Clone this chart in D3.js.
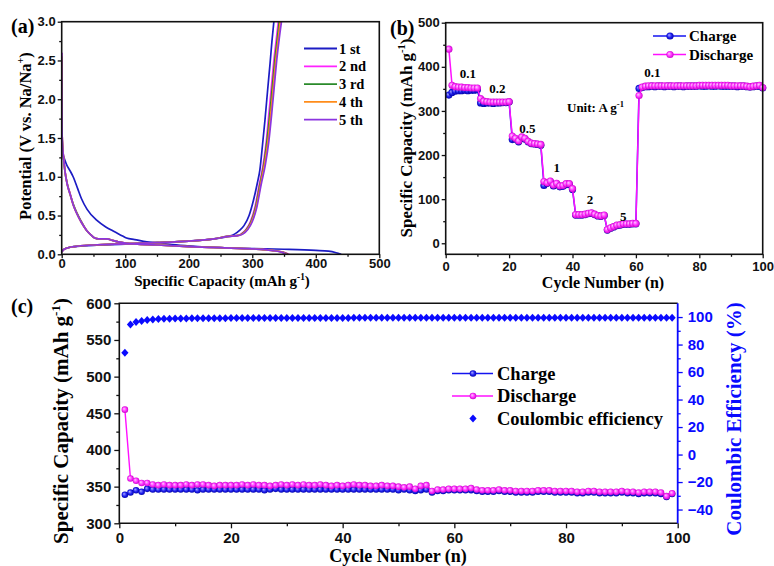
<!DOCTYPE html>
<html><head><meta charset="utf-8">
<script src="https://cdn.jsdelivr.net/npm/d3@7"></script>
<style>body{margin:0;background:#fff}svg{display:block}</style>
</head><body>
<script>
// ---------- (a) charge/discharge profiles, points are [capacity (mAh/g), potential (V)] ----------
const profileLabels = ["1 st", "2 nd", "3 rd", "4 th", "5 th"];
const discharge1 = [[0,1.36],[1,1.30],[3,1.26],[8,1.15],[13,1.08],[18,1.0],[25,0.85],[31,0.72],[40,0.58],[55,0.44],[70,0.35],[81,0.30],[95,0.24],[102,0.21],[115,0.19],[134,0.16],[150,0.15],[170,0.13],[200,0.11],[249,0.085],[300,0.075],[350,0.065],[400,0.05],[420,0.04],[432,0.02],[440,0.0]];
const discharge2 = [[0,2.6],[0.3,2.0],[0.6,1.6],[1,1.47],[3,1.25],[5,1.09],[9,0.9],[13,0.79],[18,0.65],[24,0.53],[31,0.42],[39,0.31],[46,0.25],[52,0.21],[58,0.2],[71,0.2],[80,0.18],[89,0.16],[100,0.145],[150,0.12],[200,0.1],[250,0.085],[300,0.07],[332,0.05],[350,0.025],[358,0.0]];
const discharge3 = [[0,2.55],[0.3,2.0],[0.6,1.6],[1,1.46],[3,1.24],[5,1.08],[9,0.9],[13,0.78],[18,0.65],[24,0.53],[31,0.42],[39,0.31],[46,0.25],[52,0.21],[58,0.2],[71,0.2],[80,0.18],[89,0.16],[100,0.145],[150,0.12],[200,0.1],[250,0.085],[300,0.07],[331,0.05],[349,0.025],[356,0.0]];
const discharge4 = [[0,2.55],[0.3,2.0],[0.6,1.6],[1,1.46],[3,1.24],[5,1.08],[9,0.89],[13,0.78],[18,0.64],[24,0.52],[31,0.41],[39,0.31],[46,0.25],[52,0.21],[58,0.2],[71,0.2],[80,0.18],[89,0.16],[100,0.145],[150,0.12],[200,0.1],[250,0.085],[300,0.07],[330,0.05],[348,0.025],[355,0.0]];
const discharge5 = [[0,2.6],[0.3,2.0],[0.6,1.6],[1,1.46],[3,1.24],[5,1.08],[9,0.89],[13,0.78],[18,0.64],[24,0.52],[31,0.41],[39,0.31],[46,0.25],[52,0.21],[58,0.2],[71,0.2],[80,0.18],[89,0.16],[100,0.145],[150,0.12],[200,0.1],[250,0.085],[300,0.07],[330,0.05],[347,0.025],[354,0.0]];
const charge1 = [[0,0.03],[3,0.06],[10,0.085],[20,0.1],[50,0.115],[100,0.13],[150,0.15],[200,0.17],[240,0.2],[262,0.23],[272,0.26],[280,0.31],[287,0.37],[295,0.5],[302,0.7],[308,0.92],[312,1.09],[316,1.4],[320,1.73],[324,2.1],[328,2.46],[331,2.75],[334,3.0]];
const charge2 = [[0,0.03],[3,0.06],[10,0.085],[20,0.1],[50,0.12],[100,0.135],[150,0.15],[200,0.17],[240,0.2],[260,0.23],[275,0.24],[282,0.26],[290,0.32],[297,0.42],[304,0.6],[311,0.9],[317,1.15],[322,1.45],[326,1.8],[330,2.15],[334,2.5],[337.5,2.75],[341,3.0]];
const charge3 = [[0,0.03],[3,0.06],[10,0.085],[20,0.1],[50,0.12],[100,0.135],[150,0.15],[200,0.17],[240,0.2],[260,0.23],[276,0.24],[283,0.26],[291,0.32],[298,0.42],[305,0.6],[312,0.9],[318,1.15],[323,1.45],[327.5,1.8],[331.5,2.15],[335.5,2.5],[339,2.75],[342.5,3.0]];
const charge4 = [[0,0.03],[3,0.06],[10,0.085],[20,0.1],[50,0.12],[100,0.135],[150,0.15],[200,0.17],[240,0.2],[261,0.23],[277,0.24],[284,0.26],[292,0.32],[299,0.42],[306,0.6],[313,0.9],[319,1.15],[324.5,1.45],[329,1.8],[333,2.15],[337,2.5],[340.5,2.75],[344,3.0]];
const charge5 = [[0,0.03],[3,0.06],[10,0.085],[20,0.1],[50,0.12],[100,0.135],[150,0.15],[200,0.17],[240,0.2],[262,0.23],[278,0.24],[285,0.26],[293,0.32],[300,0.42],[307,0.6],[314,0.9],[320.5,1.15],[326,1.45],[330.5,1.8],[334.5,2.15],[338.5,2.5],[342,2.75],[346,3.0]];

// ---------- (b) rate capability, cycles 1..100 (mAh/g) ----------
const rateCharge = [336,342,345,346,346,347,346,347,347,348,
  318,317,318,318,317,318,318,319,319,320,
  235,236,230,239,236,230,226,225,224,222,
  131,136,139,130,134,128,129,133,133,122,
  64,64,64,65,67,68,65,62,61,63,
  30,34,37,40,41,43,43,43,44,44,
  351,353,355,355,356,355,356,356,355,356,
  356,355,356,356,355,356,356,356,356,357,
  356,356,357,356,356,357,356,356,356,356,
  356,355,356,356,355,354,355,356,356,352];
const rateDischarge = [440,358,355,354,354,353,353,352,352,352,
  328,322,321,320,320,320,320,320,320,321,
  243,238,232,241,238,231,227,226,225,224,
  140,137,141,132,136,130,131,135,135,124,
  65,65,65,66,68,69,66,63,62,64,
  31,35,38,41,42,44,44,44,45,45,
  335,354,356,357,357,357,357,357,357,357,
  357,357,357,357,357,357,357,357,357,358,
  358,358,358,358,358,358,358,358,358,357,
  357,357,357,357,356,355,356,357,358,353];
// current density of each step (A/g), placed near its plateau
const rateLabels = [
  {text: "0.1", cycle: 7, value: 375},
  {text: "0.2", cycle: 16.3, value: 341},
  {text: "0.5", cycle: 25.8, value: 251},
  {text: "1", cycle: 35, value: 161},
  {text: "2", cycle: 45.5, value: 89},
  {text: "5", cycle: 56, value: 50},
  {text: "0.1", cycle: 65.2, value: 377}
];

// ---------- (c) long cycling at 0.1 A/g, cycles 1..99 ----------
const cycCharge = [339,342,345,343,347,346,346,346,346,346,
  346,346,346,345,346,346,346,346,346,346,
  346,346,346,346,346,345,346,347,346,346,
  346,346,346,346,346,346,346,346,346,346,
  346,346,346,346,346,346,346,346,346,345,
  346,345,344,345,346,342,344,344,345,345,
  345,345,345,344,343,343,343,344,343,343,
  342,342,342,342,343,343,343,342,342,342,
  342,341,341,342,342,341,341,341,341,342,
  341,341,340,341,341,341,340,336,340];
const cycDischarge = [455,361,358,355,355,353,352,353,352,352,
  352,353,352,353,353,352,351,352,352,352,
  352,353,352,353,352,352,351,352,353,352,
  353,352,353,352,352,353,352,351,352,351,
  352,353,352,352,351,351,352,351,351,350,
  349,350,347,351,352,344,346,346,347,347,
  347,347,348,346,345,345,345,346,345,345,
  344,344,344,344,345,345,345,344,344,344,
  344,343,343,344,344,343,343,343,343,344,
  343,343,342,343,343,343,342,337,341];
const cycEfficiency = [74.0,94.5,96.4,97.2,97.8,98.2,98.5,98.7,98.8,98.9,
  99.0,99.0,99.1,99.1,99.1,99.2,99.2,99.2,99.2,99.3,
  99.3,99.3,99.3,99.3,99.3,99.3,99.4,99.4,99.4,99.4,
  99.4,99.4,99.4,99.4,99.4,99.4,99.4,99.4,99.4,99.4,
  99.4,99.5,99.5,99.5,99.5,99.5,99.5,99.5,99.5,99.5,
  99.5,99.5,99.5,99.5,99.5,99.5,99.5,99.5,99.5,99.5,
  99.5,99.5,99.5,99.5,99.5,99.5,99.5,99.5,99.5,99.5,
  99.5,99.5,99.5,99.5,99.5,99.5,99.5,99.5,99.5,99.5,
  99.5,99.5,99.5,99.5,99.5,99.5,99.5,99.5,99.5,99.5,
  99.5,99.5,99.5,99.5,99.5,99.5,99.5,99.5,99.5];

// ---------- shared drawing helpers ----------
const SERIF = "'Liberation Serif','Times New Roman',serif";
const SANS = "'Liberation Sans',Arial,sans-serif";
const BLUE = "#1414f0", MAGENTA = "#ff10ff", AXBLUE = "#0a0aff";

const svg = d3.select("body").append("svg").attr("width", 774).attr("height", 566);
const defs = svg.append("defs");

function sphere(id, light, mid, dark) {
  const g = defs.append("radialGradient").attr("id", id)
    .attr("cx", "50%").attr("cy", "50%").attr("r", "55%").attr("fx", "35%").attr("fy", "35%");
  g.append("stop").attr("offset", "0%").attr("stop-color", light);
  g.append("stop").attr("offset", "55%").attr("stop-color", mid);
  g.append("stop").attr("offset", "100%").attr("stop-color", dark);
}
sphere("ballBlue", "#b0b0ff", "#2020f0", "#0000a0");
sphere("ballMag", "#ffd0ff", "#ff30ff", "#c000c0");

function axis(g, orient, scale, majors, minors, fmt, pos, o) {
  const make = {left: d3.axisLeft, right: d3.axisRight, bottom: d3.axisBottom}[orient];
  const tr = orient === "bottom" ? `translate(0,${pos})` : `translate(${pos},0)`;
  const gm = g.append("g").attr("transform", tr)
    .call(make(scale).tickValues(majors).tickFormat(fmt).tickSize(o.major).tickPadding(o.pad));
  const gn = g.append("g").attr("transform", tr)
    .call(make(scale).tickValues(minors).tickFormat("").tickSize(o.minor));
  [gm, gn].forEach(s => {
    s.select(".domain").remove();
    s.selectAll("line").attr("stroke", o.color).attr("stroke-width", 1.3);
  });
  gm.selectAll("text").attr("font-family", SANS).attr("font-weight", "bold")
    .attr("font-size", o.font).attr("fill", o.color);
}

// title text; parts: [text, superscript?]
function title(x, y, rotate, parts, size, color) {
  const t = svg.append("text")
    .attr("transform", `translate(${x},${y})` + (rotate ? " rotate(-90)" : ""))
    .attr("text-anchor", "middle").attr("font-family", SERIF).attr("font-weight", "bold")
    .attr("font-size", size).attr("fill", color || "#000");
  const shift = size * 0.42;
  let up = false;
  parts.forEach(([s, sup]) => {
    const ts = t.append("tspan").text(s);
    if (sup) { ts.attr("font-size", size * 0.62).attr("dy", -shift); up = true; }
    else if (up) { ts.attr("dy", shift); up = false; }
  });
  return t;
}

function frame(x0, x1, y0, y1) {
  svg.append("rect").attr("x", x0).attr("y", y0).attr("width", x1 - x0).attr("height", y1 - y0)
    .attr("fill", "none").attr("stroke", "#111").attr("stroke-width", 1.6);
}

function markers(g, data, x, y, fill, r) {
  g.selectAll(null).data(data).join("circle")
    .attr("cx", d => x(d[0])).attr("cy", d => y(d[1])).attr("r", r)
    .attr("fill", fill);
}

// ================= (a) =================
{
  const x = d3.scaleLinear([0, 500], [61.7, 379.3]);
  const y = d3.scaleLinear([0, 3], [254.3, 21.7]);
  defs.append("clipPath").attr("id", "clipA").append("rect")
    .attr("x", 61.7).attr("y", 21.7).attr("width", 317.6).attr("height", 232.6);
  const colors = ["#1c1cc4", "#ff22ff", "#2a8a2a", "#ff8c1a", "#8c35e0"];
  const curves = [[discharge1, charge1], [discharge2, charge2], [discharge3, charge3], [discharge4, charge4], [discharge5, charge5]];
  const line = d3.line().x(d => x(d[0])).y(d => y(d[1])).curve(d3.curveMonotoneX);
  const g = svg.append("g").attr("clip-path", "url(#clipA)");
  curves.forEach((pair, i) => pair.forEach(c =>
    g.append("path").attr("d", line(c)).attr("fill", "none")
      .attr("stroke", colors[i]).attr("stroke-width", 1.7)));
  const ax = svg.append("g");
  axis(ax, "left", y, d3.range(0, 3.01, 0.5), d3.range(0.25, 3, 0.5), d3.format(".1f"), 61.7,
    {major: 4, minor: 2.5, pad: 2, font: 13, color: "#111"});
  axis(ax, "bottom", x, d3.range(0, 501, 100), d3.range(50, 500, 100), d3.format("d"), 254.3,
    {major: 4, minor: 2.5, pad: 0, font: 13, color: "#111"});
  frame(61.7, 379.3, 21.7, 254.3);
  // legend
  const leg = svg.append("g");
  profileLabels.forEach((lab, i) => {
    const yy = 48.5 + i * 17.8;
    leg.append("line").attr("x1", 304).attr("x2", 337).attr("y1", yy).attr("y2", yy)
      .attr("stroke", colors[i]).attr("stroke-width", 1.8);
    leg.append("text").attr("x", 339).attr("y", yy + 5).attr("font-family", SERIF)
      .attr("font-weight", "bold").attr("font-size", 14.5).text(lab);
  });
  title(25, 136, true, [["Potential (V vs. Na/Na"], ["+", true], [")"]], 16.5).attr("dy", "0.35em");
  title(222, 286, false, [["Specific Capacity (mAh g"], ["-1", true], [")"]], 15);
  svg.append("text").attr("x", 11).attr("y", 33).attr("font-family", SERIF).attr("font-weight", "bold")
    .attr("font-size", 20).text("(a)");
}

// ================= (b) =================
{
  const x = d3.scaleLinear([0, 100], [445.7, 762.7]);
  const y = d3.scaleLinear([-25, 500], [254.3, 22.7]);
  const ax = svg.append("g");
  axis(ax, "left", y, d3.range(0, 501, 100), d3.range(50, 500, 100), d3.format("d"), 445.7,
    {major: 4, minor: 2.5, pad: 2, font: 13, color: "#111"});
  axis(ax, "bottom", x, d3.range(0, 101, 20), d3.range(10, 100, 20), d3.format("d"), 254.3,
    {major: 4, minor: 2.5, pad: 3, font: 13, color: "#111"});
  const ch = rateCharge.map((v, i) => [i + 1, v]);
  const dc = rateDischarge.map((v, i) => [i + 1, v]);
  const line = d3.line().x(d => x(d[0])).y(d => y(d[1]));
  const g = svg.append("g");
  g.append("path").attr("d", line(ch)).attr("fill", "none").attr("stroke", BLUE).attr("stroke-width", 1.5);
  markers(g.append("g"), ch, x, y, "url(#ballBlue)", 3.6);
  g.append("path").attr("d", line(dc)).attr("fill", "none").attr("stroke", MAGENTA).attr("stroke-width", 1.5);
  markers(g.append("g"), dc, x, y, "url(#ballMag)", 3.6);
  frame(445.7, 762.7, 22.7, 254.3);
  svg.append("g").selectAll("text").data(rateLabels).join("text")
    .attr("x", d => x(d.cycle)).attr("y", d => y(d.value)).attr("text-anchor", "middle")
    .attr("font-family", SERIF).attr("font-weight", "bold").attr("font-size", 13).text(d => d.text);
  const unit = svg.append("text").attr("x", 567).attr("y", 112).attr("font-family", SERIF)
    .attr("font-weight", "bold").attr("font-size", 13);
  unit.append("tspan").text("Unit: A g");
  unit.append("tspan").attr("font-size", 8.5).attr("dy", -5).text("-1");
  // legend
  [["Charge", BLUE, "url(#ballBlue)"], ["Discharge", MAGENTA, "url(#ballMag)"]].forEach(([lab, c, f], i) => {
    const yy = 36 + i * 18.5;
    svg.append("line").attr("x1", 653).attr("x2", 686).attr("y1", yy).attr("y2", yy)
      .attr("stroke", c).attr("stroke-width", 1.6);
    svg.append("circle").attr("cx", 670).attr("cy", yy).attr("r", 3.6).attr("fill", f);
    svg.append("text").attr("x", 689).attr("y", yy + 5).attr("font-family", SERIF)
      .attr("font-weight", "bold").attr("font-size", 15).text(lab);
  });
  title(406, 138, true, [["Specific Capacity (mAh g"], ["-1", true], [")"]], 17).attr("dy", "0.35em");
  title(603, 288, false, [["Cycle Number (n)"]], 16);
  svg.append("text").attr("x", 390).attr("y", 35).attr("font-family", SERIF).attr("font-weight", "bold")
    .attr("font-size", 20).text("(b)");
}

// ================= (c) =================
{
  const x = d3.scaleLinear([0, 100], [119.3, 677.7]);
  const y = d3.scaleLinear([300, 600], [523.3, 303.3]);
  const yr = d3.scaleLinear([-50, 110], [523.3, 303.3]);
  const ax = svg.append("g");
  axis(ax, "left", y, d3.range(300, 601, 50), d3.range(325, 600, 50), d3.format("d"), 119.3,
    {major: 5, minor: 3, pad: 3, font: 15, color: "#111"});
  axis(ax, "bottom", x, d3.range(0, 101, 20), d3.range(10, 100, 20), d3.format("d"), 523.3,
    {major: 5, minor: 3, pad: 4, font: 15, color: "#111"});
  axis(ax, "right", yr, d3.range(-40, 101, 20), d3.range(-30, 110, 20), d3.format("d"), 677.7,
    {major: 5, minor: 3, pad: 5, font: 15, color: AXBLUE});
  const ch = cycCharge.map((v, i) => [i + 1, v]);
  const dc = cycDischarge.map((v, i) => [i + 1, v]);
  const ce = cycEfficiency.map((v, i) => [i + 1, v]);
  const line = d3.line().x(d => x(d[0])).y(d => y(d[1]));
  const g = svg.append("g");
  g.append("path").attr("d", line(ch)).attr("fill", "none").attr("stroke", BLUE).attr("stroke-width", 1.4);
  markers(g.append("g"), ch, x, y, "url(#ballBlue)", 3.3);
  g.append("path").attr("d", line(dc)).attr("fill", "none").attr("stroke", MAGENTA).attr("stroke-width", 1.4);
  markers(g.append("g"), dc, x, y, "url(#ballMag)", 3.3);
  const diamond = "M0,-4L3.6,0L0,4L-3.6,0Z";
  g.append("g").selectAll("path").data(ce).join("path")
    .attr("transform", d => `translate(${x(d[0])},${yr(d[1])})`).attr("d", diamond).attr("fill", AXBLUE);
  // frame: black on three sides, blue right axis
  svg.append("path").attr("d", "M677.7,303.3H119.3V523.3H677.7").attr("fill", "none")
    .attr("stroke", "#111").attr("stroke-width", 1.6);
  svg.append("line").attr("x1", 677.7).attr("x2", 677.7).attr("y1", 303.3).attr("y2", 523.3)
    .attr("stroke", AXBLUE).attr("stroke-width", 1.8);
  // legend
  [["Charge", BLUE, "url(#ballBlue)"], ["Discharge", MAGENTA, "url(#ballMag)"]].forEach(([lab, c, f], i) => {
    const yy = 373.5 + i * 22.5;
    svg.append("line").attr("x1", 452).attr("x2", 493).attr("y1", yy).attr("y2", yy)
      .attr("stroke", c).attr("stroke-width", 1.6);
    svg.append("circle").attr("cx", 473).attr("cy", yy).attr("r", 3.3).attr("fill", f);
    svg.append("text").attr("x", 497).attr("y", yy + 6).attr("font-family", SERIF)
      .attr("font-weight", "bold").attr("font-size", 18.5).text(lab);
  });
  svg.append("path").attr("transform", "translate(473,418.5)").attr("d", diamond).attr("fill", AXBLUE);
  svg.append("text").attr("x", 497).attr("y", 424.5).attr("font-family", SERIF)
    .attr("font-weight", "bold").attr("font-size", 18.5).text("Coulombic efficiency");
  title(61, 421, true, [["Specific Capacity (mAh g"], ["-1", true], [")"]], 21).attr("dy", "0.35em");
  title(398, 562, false, [["Cycle Number (n)"]], 18);
  title(734, 419, true, [["Coulombic Efficiency (%)"]], 21, AXBLUE).attr("dy", "0.35em");
  svg.append("text").attr("x", 11).attr("y", 313).attr("font-family", SERIF).attr("font-weight", "bold")
    .attr("font-size", 20).text("(c)");
}
</script>
</body></html>
